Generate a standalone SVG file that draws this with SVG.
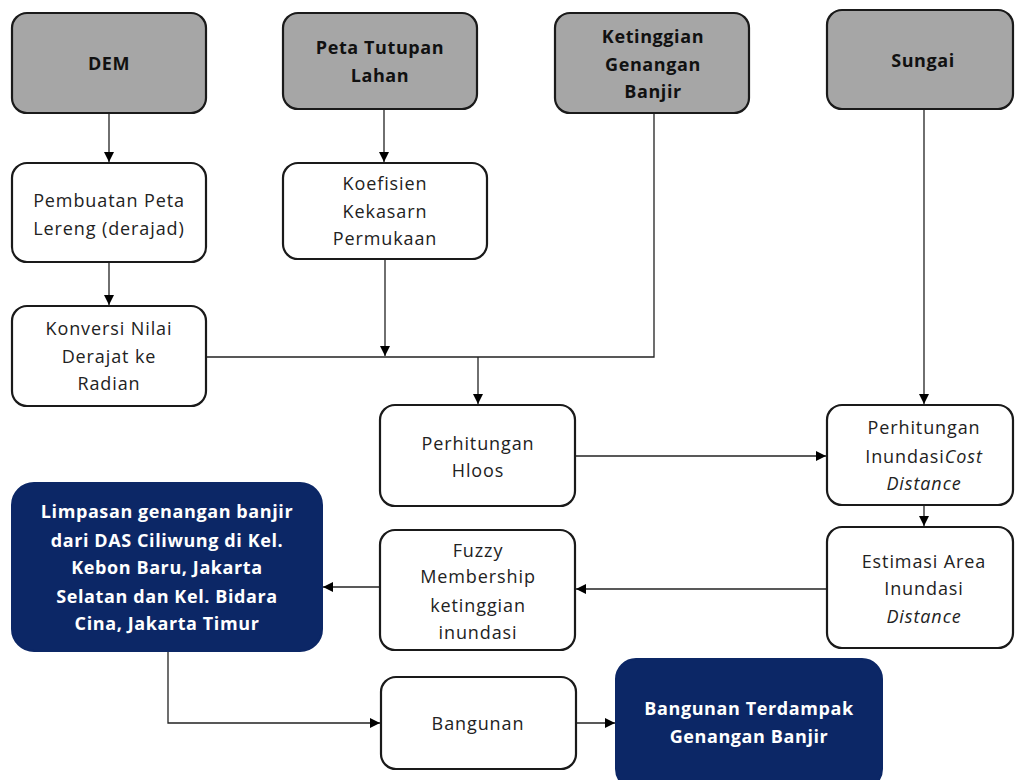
<svg xmlns="http://www.w3.org/2000/svg" width="1015" height="780" viewBox="0 0 1015 780">
<defs>
<marker id="ah" viewBox="0 0 10 10" refX="10" refY="5" markerWidth="10" markerHeight="10" markerUnits="userSpaceOnUse" orient="auto">
<path d="M0,0 L10,5 L0,10 Z" fill="#000"/>
</marker>
<style>
.in{fill:#a6a6a6;stroke:#1a1a1a;stroke-width:2.2}
.pr{fill:#fff;stroke:#1a1a1a;stroke-width:2.2}
.out{fill:#0c2766;stroke:#0c2766;stroke-width:2}
.c{fill:none;stroke:#222;stroke-width:1.3}
text{font-family:"Open Sans","Noto Sans",sans-serif;font-size:18px;letter-spacing:0.9px;text-anchor:middle;fill:#222}
.b{font-weight:bold;fill:#111;letter-spacing:0.6px}
.w{font-weight:bold;fill:#fff;letter-spacing:0.6px}
.i{font-style:italic}
</style>
</defs>
<rect width="1015" height="780" fill="#fff"/>
<g id="connectors">
<path class="c" d="M109,113 V162" marker-end="url(#ah)"/>
<path class="c" d="M384,109 V162" marker-end="url(#ah)"/>
<path class="c" d="M109,262 V305" marker-end="url(#ah)"/>
<path class="c" d="M385,259 V356" marker-end="url(#ah)"/>
<path class="c" d="M206,357 H654 V113"/>
<path class="c" d="M478,357 V404" marker-end="url(#ah)"/>
<path class="c" d="M924,109 V404" marker-end="url(#ah)"/>
<path class="c" d="M575,456 H826" marker-end="url(#ah)"/>
<path class="c" d="M924,505 V526" marker-end="url(#ah)"/>
<path class="c" d="M827,589 H576" marker-end="url(#ah)"/>
<path class="c" d="M380,587 H323" marker-end="url(#ah)"/>
<path class="c" d="M168,651 V723 H380" marker-end="url(#ah)"/>
<path class="c" d="M576,723 H615" marker-end="url(#ah)"/>
</g>
<g id="dem"><rect class="in" x="12" y="13" width="194" height="100" rx="15"/><text class="b" x="109" y="70">DEM</text></g>
<g id="tutupan"><rect class="in" x="283" y="13" width="194" height="96" rx="15"/><text class="b" x="380" y="54">Peta Tutupan</text><text class="b" x="380" y="82">Lahan</text></g>
<g id="ketinggian"><rect class="in" x="555" y="13" width="194" height="100" rx="15"/><text class="b" x="653" y="43">Ketinggian</text><text class="b" x="653" y="71">Genangan</text><text class="b" x="653" y="98">Banjir</text></g>
<g id="sungai"><rect class="in" x="827" y="10" width="186" height="99" rx="15"/><text class="b" x="923" y="67">Sungai</text></g>
<g id="lereng"><rect class="pr" x="12" y="163" width="194" height="99" rx="15"/><text x="109" y="207">Pembuatan Peta</text><text x="109" y="235">Lereng (derajad)</text></g>
<g id="koefisien"><rect class="pr" x="283" y="163" width="204" height="96" rx="15"/><text x="385" y="190">Koefisien</text><text x="385" y="218">Kekasarn</text><text x="385" y="245">Permukaan</text></g>
<g id="konversi"><rect class="pr" x="12" y="306" width="194" height="100" rx="15"/><text x="109" y="335">Konversi Nilai</text><text x="109" y="363">Derajat ke</text><text x="109" y="390">Radian</text></g>
<g id="hloos"><rect class="pr" x="380" y="405" width="195" height="101" rx="15"/><text x="478" y="450">Perhitungan</text><text x="478" y="477">Hloos</text></g>
<g id="costdistance"><rect class="pr" x="827" y="405" width="186" height="100" rx="15"/><text x="924" y="434">Perhitungan</text><text x="924" y="463">Inundasi<tspan class="i">Cost</tspan></text><text class="i" x="924" y="490">Distance</text></g>
<g id="estimasi"><rect class="pr" x="827" y="527" width="186" height="121" rx="15"/><text x="924" y="568">Estimasi Area</text><text x="924" y="595">Inundasi</text><text class="i" x="924" y="623">Distance</text></g>
<g id="fuzzy"><rect class="pr" x="380" y="530" width="195" height="120" rx="15"/><text x="478" y="557">Fuzzy</text><text x="478" y="583">Membership</text><text x="478" y="612">ketinggian</text><text x="478" y="639">inundasi</text></g>
<g id="limpasan"><rect class="out" x="12" y="483" width="310" height="168" rx="22"/><text class="w" x="167" y="518">Limpasan genangan banjir</text><text class="w" x="167" y="547">dari DAS Ciliwung di Kel.</text><text class="w" x="167" y="574">Kebon Baru, Jakarta</text><text class="w" x="167" y="603">Selatan dan Kel. Bidara</text><text class="w" x="167" y="630">Cina, Jakarta Timur</text></g>
<g id="bangunan"><rect class="pr" x="381" y="677" width="195" height="92" rx="15"/><text x="478" y="730">Bangunan</text></g>
<g id="terdampak"><rect class="out" x="616" y="659" width="266" height="130" rx="20"/><text class="w" x="749" y="715">Bangunan Terdampak</text><text class="w" x="749" y="743">Genangan Banjir</text></g>
</svg>
